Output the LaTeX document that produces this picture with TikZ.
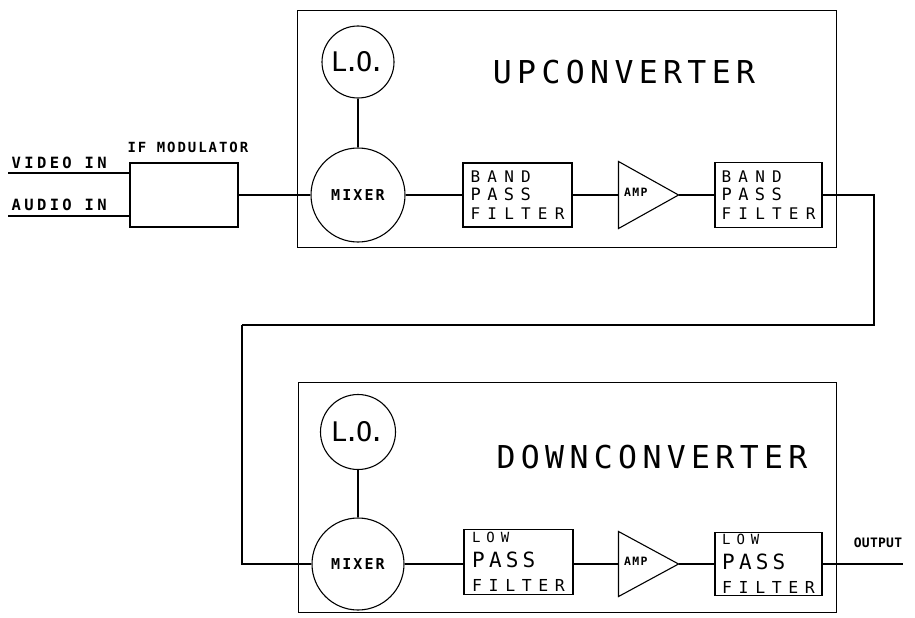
\documentclass[tikz,border=0pt]{standalone}
\usepackage{fontspec}
\usetikzlibrary{shapes.geometric}
\newfontfamily\monof{DejaVu Sans Mono}
\newcommand{\ftls}[2]{\fontsize{#1}{#1}\selectfont\addfontfeatures{LetterSpace=#2}}
\begin{document}
\begin{tikzpicture}[x=1pt,y=-1pt,line width=1.1pt,
  blk/.style={draw,rectangle,inner sep=0pt},
  circ/.style={draw,circle,inner sep=0pt},
  ampbox/.style={rectangle,inner sep=0pt,minimum width=59pt,minimum height=66pt},
  lbl/.style={inner sep=0pt},
  filt/.style={blk,align=left,font=\monof\fontsize{16}{18.5}\selectfont},
  lfilt/.style={blk,align=left,font=\monof\fontsize{16}{24.5}\selectfont},
  title/.style={lbl,font=\monof\ftls{31.5}{17}},
  lofont/.style={font=\monof\ftls{27}{-14}},
  small/.style={lbl,font=\monof\bfseries\ftls{15}{14}},
  amplbl/.style={lbl,anchor=west,font=\monof\bfseries\ftls{11.5}{12}},
]
\useasboundingbox (0,0) rectangle (915,618);

% ---------- inputs and IF modulator ----------
\coordinate (vin) at (8,173);
\coordinate (ain) at (8,216);
\node[blk,minimum width=108pt,minimum height=64pt] (ifm) at (184,195) {};
\node[lbl,anchor=base west,font=\monof\bfseries\ftls{14}{14}] (ifmlbl) at (127,152) {IF MODULATOR};
\node[lbl,anchor=base west,font=\monof\bfseries\ftls{15.5}{22}] (vinlbl) at (11,168) {VIDEO IN};
\node[lbl,anchor=base west,font=\monof\bfseries\ftls{15.5}{22}] (ainlbl) at (11,210) {AUDIO IN};
\draw (vin) -- (vin -| ifm.west);
\draw (ain) -- (ain -| ifm.west);

% ---------- upconverter ----------
\node[blk,minimum width=539pt,minimum height=237pt,anchor=north west] (up) at (297,10) {};
\node[title] (uptitle) at (624,72) {UPCONVERTER};
\node[circ,minimum size=72pt,lofont] (lo1) at (358,62) {L.O.};
\node[circ,minimum size=94pt,small] (mix1) at (358,195) {MIXER};
\node[filt,minimum width=109pt,minimum height=64pt] (bpf1) at (517.5,195)
  {{\ftls{16}{45}BAND}\\{\ftls{17}{38}PASS}\\{\ftls{16}{45}FILTER}};
\node[ampbox] (amp1) at (648.5,195) {};
\draw (amp1.north west) -- (amp1.east) -- (amp1.south west) -- cycle;
\node[amplbl] (amp1lbl) at ([xshift=5pt,yshift=3pt]amp1.west) {AMP};
\node[filt,minimum width=107pt,minimum height=65pt] (bpf2) at (768.5,195)
  {{\ftls{16}{45}BAND}\\{\ftls{17}{38}PASS}\\{\ftls{16}{45}FILTER}};

\draw (ifm.east) -- (mix1.west);
\draw (lo1.south) -- (mix1.north);
\draw (mix1.east) -- (bpf1.west);
\draw (bpf1.east) -- (amp1.west);
\draw (amp1.east) -- (bpf2.west);

% ---------- link ----------
\coordinate (r2) at (874,325);
\coordinate (l1) at (242,325);
\draw (bpf2.east) -| (r2) -- (l1);

% ---------- downconverter ----------
\node[blk,minimum width=538pt,minimum height=230pt,anchor=north west] (down) at (298,382) {};
\node[title] (downtitle) at (652,457) {DOWNCONVERTER};
\node[circ,minimum size=75pt,lofont] (lo2) at (358,432) {L.O.};
\node[circ,minimum size=92pt,small] (mix2) at (358,564) {MIXER};
\node[lfilt,minimum width=109pt,minimum height=65pt] (lpf1) at (518.5,562)
  {{\ftls{14}{42}LOW}\\{\ftls{21}{20}PASS}\\{\ftls{16.5}{40}FILTER}};
\node[ampbox,minimum height=64pt] (amp2) at (648.5,564) {};
\draw (amp2.north west) -- (amp2.east) -- (amp2.south west) -- cycle;
\node[amplbl] (amp2lbl) at ([xshift=5pt,yshift=3pt]amp2.west) {AMP};
\node[lfilt,minimum width=107pt,minimum height=63pt] (lpf2) at (768.5,564)
  {{\ftls{14}{42}LOW}\\{\ftls{21}{20}PASS}\\{\ftls{16.5}{40}FILTER}};
\coordinate (out) at (903,564);
\node[lbl,font=\monof\bfseries\ftls{13}{2}] (outlbl) at (878,543) {OUTPUT};

\draw (l1) |- (mix2.west);
\draw (lo2.south) -- (mix2.north);
\draw (mix2.east) -- (lpf1.west |- mix2.east);
\draw (lpf1.east |- amp2.west) -- (amp2.west);
\draw (amp2.east) -- (lpf2.west);
\draw (lpf2.east) -- (out);
\end{tikzpicture}
\end{document}
